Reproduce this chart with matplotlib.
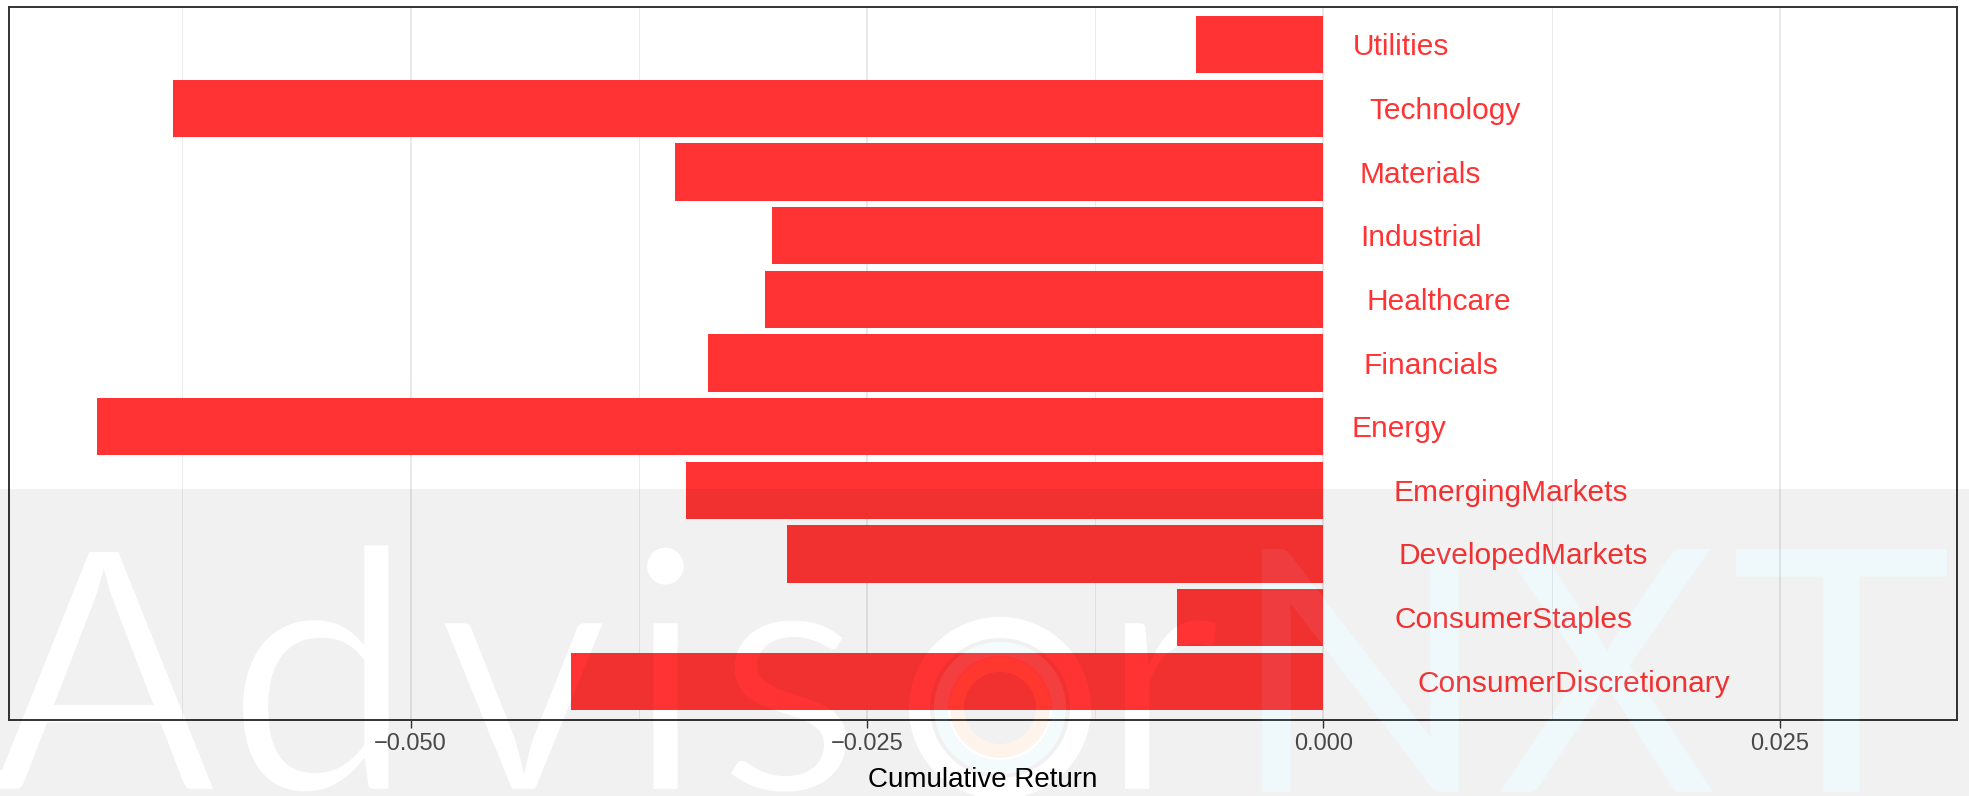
import numpy as np
import matplotlib
matplotlib.use("Agg")
import matplotlib.pyplot as plt
import matplotlib.transforms as mtransforms
from matplotlib.path import Path
from matplotlib.patches import PathPatch
from matplotlib.textpath import TextPath
from matplotlib.font_manager import FontProperties
from matplotlib.ticker import FuncFormatter

# data (bottom -> top, as drawn)
sectors = ["ConsumerDiscretionary", "ConsumerStaples", "DevelopedMarkets",
           "EmergingMarkets", "Energy", "Financials", "Healthcare",
           "Industrial", "Materials", "Technology", "Utilities"]
returns = [-0.0412, -0.0080, -0.0294, -0.0349, -0.0672, -0.0337, -0.0306,
           -0.0302, -0.0355, -0.0630, -0.0070]
xticks = [-0.050, -0.025, 0.000, 0.025]
xminor = [-0.0625, -0.0375, -0.0125, 0.0125]

plt.rcParams["font.family"] = ["Liberation Sans", "DejaVu Sans"]

W, H = 1969, 796
fig = plt.figure(figsize=(W / 100, H / 100), dpi=100)
ax = fig.add_axes([9 / W, 76.5 / H, 1948 / W, 713 / H])

ypos = np.arange(1, len(sectors) + 1)
ax.barh(ypos, returns, height=0.9, color="#ff3333", zorder=2)
ax.set_ylim(0.4, len(sectors) + 0.6)
ax.set_xlim(-0.0720, 0.0347)

ax.set_xticks(xticks)
ax.set_xticks(xminor, minor=True)
ax.xaxis.set_major_formatter(FuncFormatter(lambda v, p: f"{v:.3f}".replace("-", "\u2212")))
ax.grid(axis="x", which="major", color="#e2e2e2", lw=1.1)
ax.grid(axis="x", which="minor", color="#ececec", lw=0.7)
ax.set_axisbelow(True)
ax.set_yticks([])
ax.tick_params(axis="x", which="minor", length=0)
ax.tick_params(axis="x", which="major", length=5.5, width=1.0, color="#333333",
               labelsize=17, labelcolor="#4d4d4d", pad=4)
for sp in ax.spines.values():
    sp.set_color("#333333")
    sp.set_linewidth(1.4)
ax.set_xlabel("Cumulative Return", fontsize=20, color="black", labelpad=9)

# sector names next to zero, hjust = -0.3 like the original
labels = [ax.text(0, y, s, color="#ff3333", fontsize=21.5, ha="left", va="center")
          for y, s in zip(ypos, sectors)]
fig.canvas.draw()
for t in labels:
    w = t.get_window_extent().width
    t.set_transform(ax.transData + mtransforms.Affine2D().translate(0.3 * w, -2.5))

# ---- watermark "AdvisorNXT" ----
pix = mtransforms.Affine2D().scale(1 / W, 1 / H) + fig.transFigure
fp = FontProperties(family="Lato", weight="normal")
cap = TextPath((0, 0), "H", size=100, prop=fp).get_extents().height
k = 243 / cap
base = 4
stem = TextPath((0, 0), "l", size=100, prop=fp).get_extents().width * k
erode = max(stem - 24, 0) / 2  # px to shave off each side


def glyph(ch, left, width=None):
    p = TextPath((0, 0), ch, size=100, prop=fp)
    e = p.get_extents()
    sx = k if width is None else width / e.width
    tr = mtransforms.Affine2D().translate(-e.x0, 0).scale(sx, k).translate(left, base)
    return tr.transform_path(p)


def area(poly):
    x, y = poly[:, 0], poly[:, 1]
    return 0.5 * np.sum(x * np.roll(y, -1) - np.roll(x, -1) * y)


def circle(cx, cy, r, sign):
    th = np.linspace(0, 2 * np.pi, 241)
    if sign < 0:
        th = th[::-1]
    v = np.column_stack([cx + r * np.cos(th), cy + r * np.sin(th)])
    codes = [Path.MOVETO] + [Path.LINETO] * (len(v) - 2) + [Path.CLOSEPOLY]
    return Path(v, codes)


advisr = [glyph("A", -10), glyph("d", 240), glyph("v", 440), glyph("i", 644),
          glyph("s", 727), glyph("r", 1122)]
nxt = [glyph("N", 1262), glyph("X", 1500), glyph("T", 1736, width=211)]

polys = advisr[0].to_polygons()
sgn = np.sign(area(max(polys, key=lambda q: abs(area(q)))))

band_top = H - 489
rect = np.array([[0, 0], [W, 0], [W, band_top], [0, band_top], [0, 0]], float)
if sgn > 0:
    rect = rect[::-1]
rect_path = Path(rect, [Path.MOVETO, Path.LINETO, Path.LINETO, Path.LINETO, Path.CLOSEPOLY])

cx, cy = 1000, H - 708
band = Path.make_compound_path(rect_path, *advisr, *nxt,
                               circle(cx, cy, 91, sgn), circle(cx, cy, 70, -sgn),
                               circle(cx, cy, 66, sgn), circle(cx, cy, 36, -sgn))
fig.add_artist(PathPatch(band, transform=pix, facecolor="black", alpha=0.055,
                         lw=0, zorder=10))
fig.add_artist(PathPatch(Path.make_compound_path(*nxt), transform=pix,
                         facecolor=(55 / 255, 167 / 255, 205 / 255), alpha=0.08,
                         lw=0, zorder=11))
# thin the white letters: stroke their outlines with the band tone, clipped to the glyph
for g in advisr:
    rim = PathPatch(g, transform=pix, facecolor="none", edgecolor="black",
                    alpha=0.055, lw=2 * erode * 72 / 100, zorder=12)
    rim.set_clip_path(g, pix)
    fig.add_artist(rim)
fig.add_artist(PathPatch(Path.make_compound_path(circle(cx, cy, 66, 1), circle(cx, cy, 52, -1)),
                         transform=pix, facecolor="#7fd0f0", alpha=0.08, lw=0, zorder=11))
fig.add_artist(PathPatch(Path.make_compound_path(circle(cx, cy, 50, 1), circle(cx, cy, 36, -1)),
                         transform=pix, facecolor="#ff7a00", alpha=0.08, lw=0, zorder=11))

fig.savefig("out.png", dpi=100, facecolor="white")
